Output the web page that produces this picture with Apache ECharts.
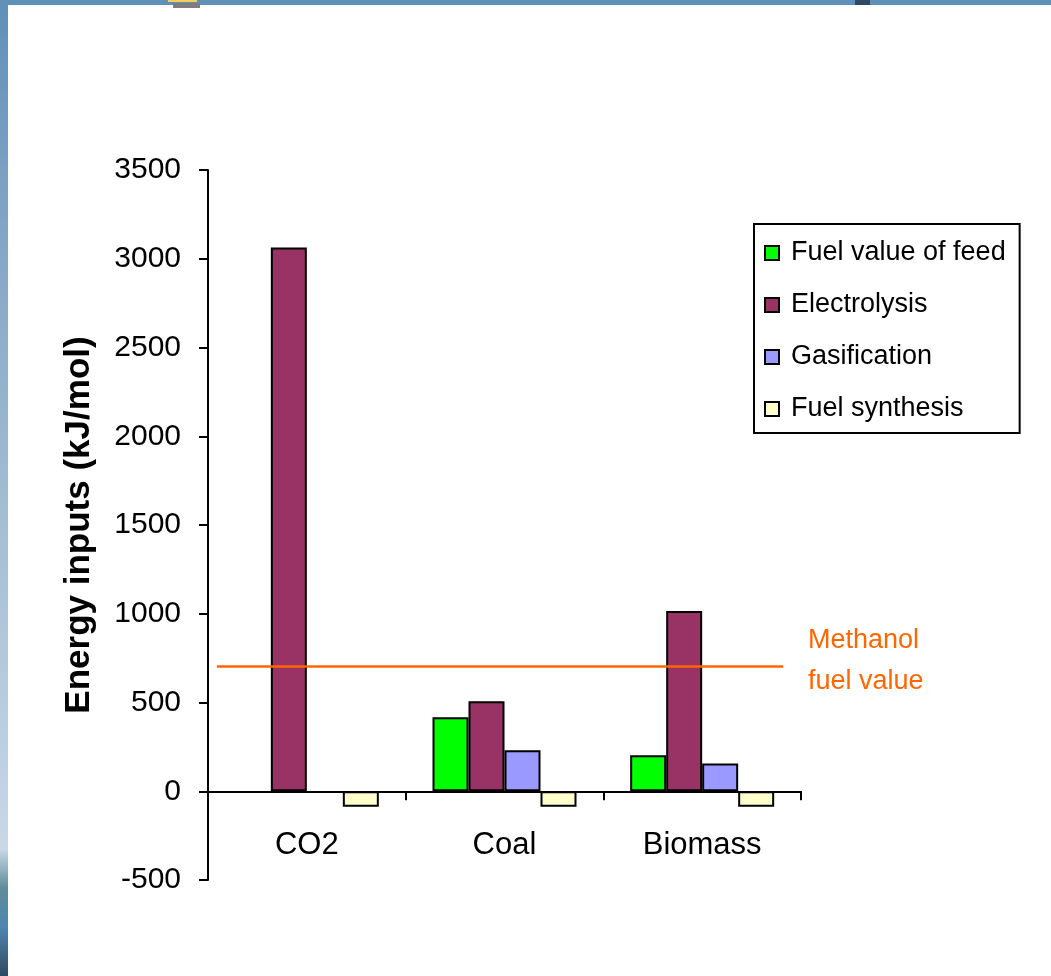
<!DOCTYPE html>
<html>
<head>
<meta charset="utf-8">
<script src="https://cdn.jsdelivr.net/npm/echarts@6/dist/echarts.min.js"></script>
<style>
  html, body { margin: 0; padding: 0; background: #ffffff; }
  #chart { width: 1051px; height: 976px; }
</style>
</head>
<body>
<div id="chart"></div>
<script>
// Energy inputs per mole of methanol, by carbon source
const categories = ['CO2', 'Coal', 'Biomass'];
const fuelValueOfFeed = [null, 417, 203];
const electrolysis = [3063, 507, 1015];
const gasification = [null, 231, 156];
const fuelSynthesis = [-88, -88, -88];
const methanolFuelValue = 703;
const yTicks = { min: -500, max: 3500, step: 500 };

const FONT = '"Liberation Sans", Arial, sans-serif';
const chart = echarts.init(document.getElementById('chart'), null, { renderer: 'canvas' });

function barSeries(name, data, color) {
  return {
    name: name,
    type: 'bar',
    data: data,
    barWidth: 36,
    barGap: '0%',
    itemStyle: { color: color, borderColor: '#000000', borderWidth: 2 },
    emphasis: { disabled: true },
    animation: false
  };
}

chart.setOption({
  animation: false,
  backgroundColor: '#ffffff',
  grid: { left: 208, top: 170, width: 593, height: 710, containLabel: false },
  xAxis: [
    {
      type: 'category',
      data: categories,
      axisLine: { onZero: true, lineStyle: { color: '#000000', width: 2 } },
      axisTick: { show: true, length: 9, inside: false, alignWithLabel: false, lineStyle: { color: '#000000', width: 2 } },
      // labels sit just under the zero line
      axisLabel: { color: '#000000', fontSize: 31, fontFamily: FONT, margin: -50 },
      splitLine: { show: false }
    },
    {
      // helper axis spanning the plot width, used to place the reference line
      type: 'value', min: 0, max: 1, show: false
    }
  ],
  yAxis: {
    type: 'value',
    min: yTicks.min,
    max: yTicks.max,
    interval: yTicks.step,
    name: 'Energy inputs (kJ/mol)',
    nameLocation: 'middle',
    nameRotate: 90,
    nameGap: 111,
    nameTextStyle: { color: '#000000', fontSize: 35, fontWeight: 'bold', fontFamily: FONT },
    axisLine: { show: true, lineStyle: { color: '#000000', width: 2 } },
    axisTick: { show: true, length: 9, lineStyle: { color: '#000000', width: 2 } },
    axisLabel: { color: '#000000', fontSize: 30, fontFamily: FONT, margin: 27, formatter: (v) => String(v) },
    splitLine: { show: false }
  },
  legend: {
    orient: 'vertical',
    left: 754,
    top: 224,
    padding: [14, 14, 9, 10],
    itemWidth: 14,
    itemHeight: 14,
    itemGap: 22,
    icon: 'rect',
    borderColor: '#000000',
    borderWidth: 2,
    backgroundColor: '#ffffff',
    selectedMode: false,
    textStyle: { color: '#000000', fontSize: 27, fontFamily: FONT, lineHeight: 30, padding: [0, 0, 0, 7] },
    data: ['Fuel value of feed', 'Electrolysis', 'Gasification', 'Fuel synthesis']
  },
  series: [
    barSeries('Fuel value of feed', fuelValueOfFeed, '#00ff00'),
    barSeries('Electrolysis', electrolysis, '#993366'),
    barSeries('Gasification', gasification, '#9999ff'),
    barSeries('Fuel synthesis', fuelSynthesis, '#ffffcc'),
    {
      name: 'Methanol fuel value',
      type: 'line',
      xAxisIndex: 1,
      data: [[0.015, methanolFuelValue], [0.97, methanolFuelValue]],
      symbol: 'none',
      lineStyle: { color: '#ff6600', width: 2.5 },
      silent: true,
      z: 5
    }
  ],
  graphic: [
    // slide frame: top band and left strip
    { type: 'rect', shape: { x: 0, y: 0, width: 1051, height: 5 }, style: { fill: '#5e90b8' }, silent: true },
    {
      type: 'rect', shape: { x: 0, y: 0, width: 8, height: 976 }, silent: true,
      style: {
        fill: new echarts.graphic.LinearGradient(0, 0, 0, 1, [
          { offset: 0.0, color: '#5f90b8' },
          { offset: 0.25, color: '#85a6c6' },
          { offset: 0.55, color: '#a6bfd4' },
          { offset: 0.87, color: '#c8d8e6' },
          { offset: 0.91, color: '#5f8c9a' },
          { offset: 0.95, color: '#4f86b0' },
          { offset: 1.0, color: '#2e4a60' }
        ])
      }
    },
    { type: 'rect', shape: { x: 168, y: 0, width: 29, height: 2 }, style: { fill: '#f2cf5c' }, silent: true },
    { type: 'rect', shape: { x: 173, y: 3, width: 27, height: 5 }, style: { fill: '#7d7d7d' }, silent: true },
    { type: 'rect', shape: { x: 855, y: 0, width: 15, height: 5 }, style: { fill: '#2f4a62' }, silent: true },
    // label for the methanol reference line
    {
      type: 'text', left: 808, top: 620, silent: true,
      style: { text: 'Methanol\nfuel value', fill: '#ff6600', font: '27px ' + FONT, lineHeight: 41 }
    }
  ]
});
</script>
</body>
</html>
